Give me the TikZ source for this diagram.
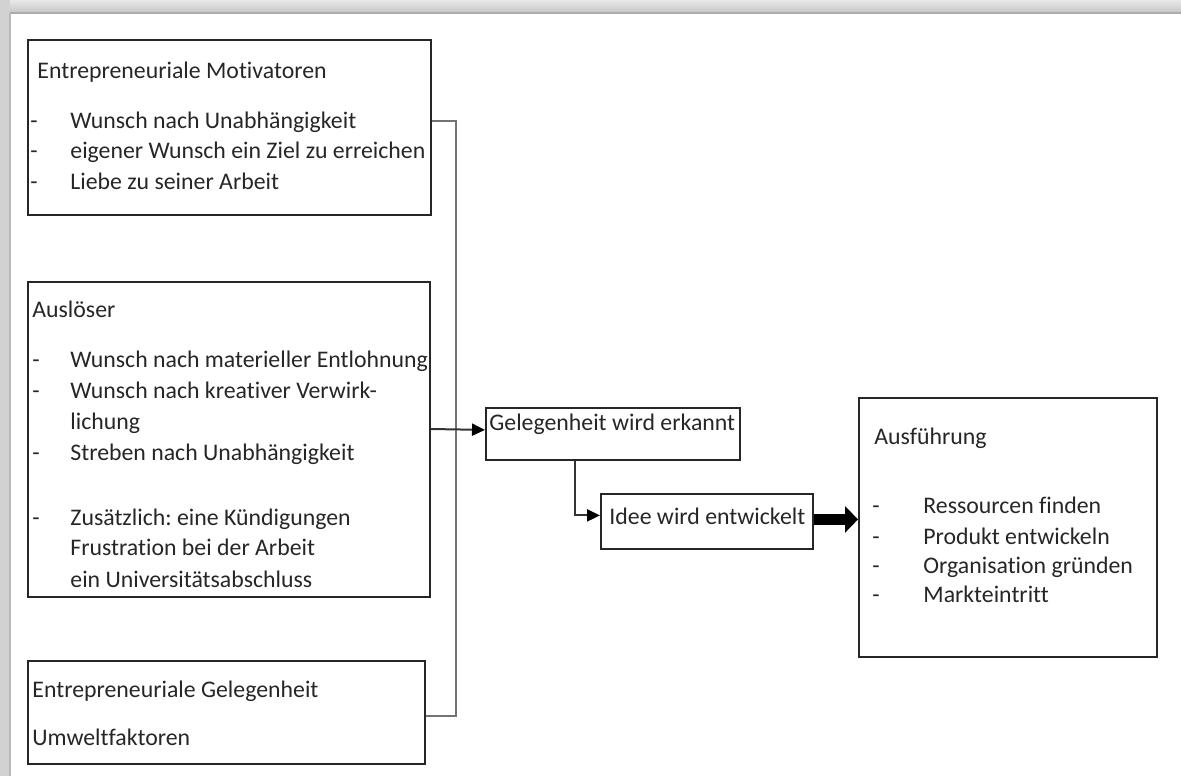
\documentclass[tikz,border=0pt]{standalone}
\usepackage{fontspec}
\setmainfont[Ligatures=NoCommon]{Carlito}
\usetikzlibrary{arrows.meta}
\frenchspacing
\begin{document}
\begin{tikzpicture}[x=0.5pt,y=-0.5pt,
  box/.style={draw=black!85, line width=0.9pt, inner sep=0pt, anchor=north west},
  txt/.style={anchor=base west, inner sep=0pt, font=\fontsize{11.9pt}{14pt}\selectfont, text=black!85},
  bus/.style={draw=black!55, line width=1pt},
  arr/.style={draw=black!80, line width=1pt, -{Triangle[length=6.5pt,width=6pt,fill=black,color=black]}},
  bigarr/.style={draw=black, line width=5.5pt, -{Triangle[length=6.5pt,width=13pt]}}]
\useasboundingbox (0,0) rectangle (1181,776);
% frame
\fill[top color=gray!18, bottom color=gray!45] (0,0) rectangle (1181,13);
\fill[gray!35] (0,0) rectangle (10,776);
\draw[gray!65, line width=1pt] (10,13) -- (1181,13);
\draw[gray!55, line width=0.8pt] (10,13) -- (10,776);
% boxes
\node[box, minimum width=201.5pt, minimum height=87.5pt] (mot) at (27,39) {};
\node[box, minimum width=201pt, minimum height=157.5pt] (aus) at (27,281) {};
\node[box, minimum width=198.5pt, minimum height=51.5pt] (gel) at (27,660) {};
\node[box, minimum width=127pt, minimum height=26pt] (erk) at (485,407) {};
\node[box, minimum width=106pt, minimum height=27.5pt] (idee) at (600,493) {};
\node[box, minimum width=149pt, minimum height=129.5pt] (ausf) at (858,397) {};
% box 1 text
\node[txt] (m0) at (37,78) {Entrepreneuriale Motivatoren};
\node[txt] (m1d) at (30,128) {-};
\node[txt] (m1) at (70,128) {Wunsch nach Unabhängigkeit};
\node[txt] (m2d) at (30,158) {-};
\node[txt] (m2) at (70,158) {eigener Wunsch ein Ziel zu erreichen};
\node[txt] (m3d) at (30,189) {-};
\node[txt] (m3) at (70,189) {Liebe zu seiner Arbeit};
% box 2 text
\node[txt] (a0) at (32,317) {Auslöser};
\node[txt] (a1d) at (32,367) {-};
\node[txt] (a1) at (70,367) {Wunsch nach materieller Entlohnung};
\node[txt] (a2d) at (32,398) {-};
\node[txt] (a2) at (70,398) {Wunsch nach kreativer Verwirk-};
\node[txt] (a2b) at (70,429) {lichung};
\node[txt] (a3d) at (32,460) {-};
\node[txt] (a3) at (70,460) {Streben nach Unabhängigkeit};
\node[txt] (a4d) at (32,525) {-};
\node[txt] (a4) at (70,525) {Zusätzlich: eine Kündigungen};
\node[txt] (a5) at (70,555) {Frustration bei der Arbeit};
\node[txt] (a6) at (70,587) {ein Universitätsabschluss};
% box 3 text
\node[txt] (g0) at (32,697) {Entrepreneuriale Gelegenheit};
\node[txt] (g1) at (32,745) {Umweltfaktoren};
% middle boxes text
\node[txt] (e0) at (489,430) {Gelegenheit wird erkannt};
\node[txt] (i0) at (609,524) {Idee wird entwickelt};
% Ausfuehrung text
\node[txt] (f0) at (874,444) {Ausführung};
\node[txt] (f1d) at (872,513) {-};
\node[txt] (f1) at (923,513) {Ressourcen finden};
\node[txt] (f2d) at (872,544) {-};
\node[txt] (f2) at (923,544) {Produkt entwickeln};
\node[txt] (f3d) at (872,573) {-};
\node[txt] (f3) at (923,573) {Organisation gründen};
\node[txt] (f4d) at (872,602) {-};
\node[txt] (f4) at (923,602) {Markteintritt};
% connectors
\coordinate (j1) at (456,121);
\coordinate (j3) at (456,716);
\draw[bus] (mot.east |- j1) -- (j1) -- (j3) -- (gel.east |- j3);
\draw[arr] (aus.east |- 0,429) -- ([yshift=2pt]erk.west);
\draw[arr] ([xshift=45pt]erk.south west) |- ([yshift=3pt]idee.west);
\draw[bigarr] ([yshift=1pt]idee.east) -- ([yshift=1pt]idee.east -| ausf.west);
\end{tikzpicture}
\end{document}
